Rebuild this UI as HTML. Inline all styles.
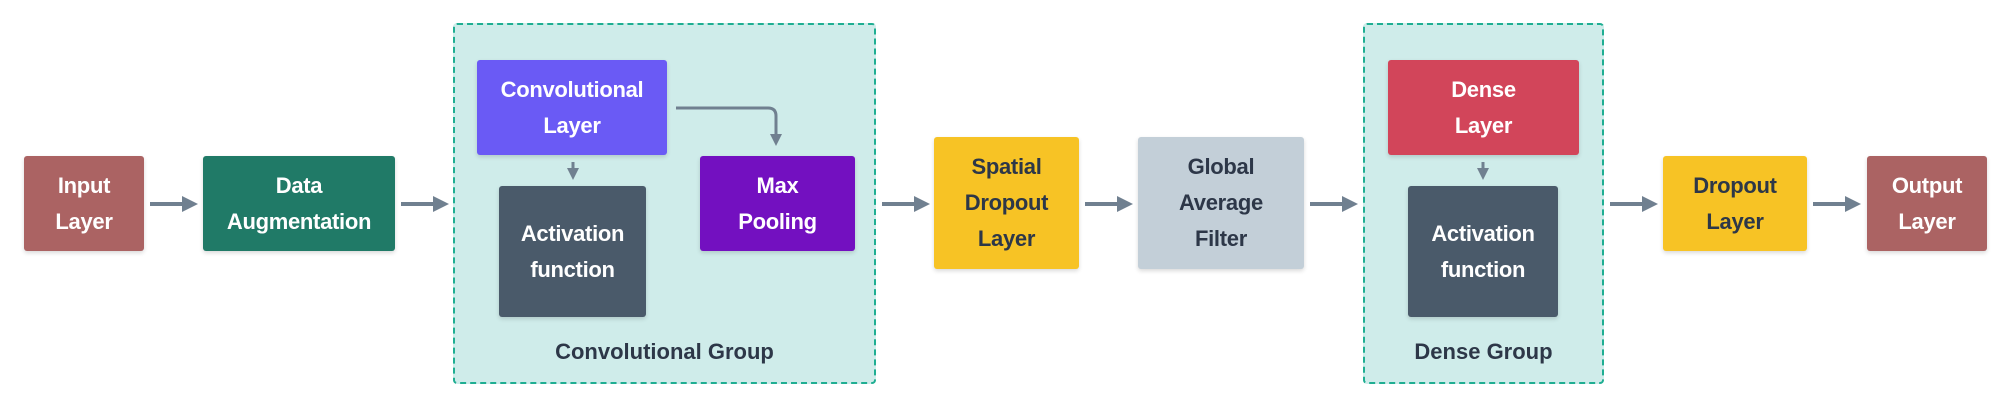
<!DOCTYPE html>
<html><head><meta charset="utf-8"><style>
body{margin:0;background:#fff;width:2011px;height:408px;overflow:hidden;font-family:"Liberation Sans",sans-serif}
.b{position:absolute;display:flex;align-items:center;justify-content:center;text-align:center;font-weight:bold;font-size:22px;line-height:36px;color:#fff;border-radius:3px;box-shadow:0 2px 4px rgba(0,0,0,.15);letter-spacing:-0.3px}
.g{position:absolute;background:#cfecea;border:2px dashed #1fae92;border-radius:4px;box-sizing:border-box}
.gl{position:absolute;font-weight:bold;font-size:22px;color:#2d3748;text-align:center}
.d{color:#2d3748}
</style></head><body>
<div class="g" style="left:453px;top:23px;width:423px;height:361px"></div>
<div class="g" style="left:1363px;top:23px;width:241px;height:361px"></div>
<div class="gl" style="left:453px;width:423px;top:339px">Convolutional Group</div>
<div class="gl" style="left:1363px;width:241px;top:339px">Dense Group</div>

<div class="b" style="left:24px;top:156px;width:120px;height:95px;background:#ab6363">Input<br>Layer</div>
<div class="b" style="left:203px;top:156px;width:192px;height:95px;background:#207a67">Data<br>Augmentation</div>
<div class="b" style="left:477px;top:60px;width:190px;height:95px;background:#6a5af5">Convolutional<br>Layer</div>
<div class="b" style="left:499px;top:186px;width:147px;height:131px;background:#4a5a6a">Activation<br>function</div>
<div class="b" style="left:700px;top:156px;width:155px;height:95px;background:#7310c0">Max<br>Pooling</div>
<div class="b d" style="left:934px;top:137px;width:145px;height:132px;background:#f7c325">Spatial<br>Dropout<br>Layer</div>
<div class="b d" style="left:1138px;top:137px;width:166px;height:132px;background:#c3cfd8">Global<br>Average<br>Filter</div>
<div class="b" style="left:1388px;top:60px;width:191px;height:95px;background:#d2455a">Dense<br>Layer</div>
<div class="b" style="left:1408px;top:186px;width:150px;height:131px;background:#4a5a6a">Activation<br>function</div>
<div class="b d" style="left:1663px;top:156px;width:144px;height:95px;background:#f7c325">Dropout<br>Layer</div>
<div class="b" style="left:1867px;top:156px;width:120px;height:95px;background:#ab6363">Output<br>Layer</div>

<svg width="2011" height="408" style="position:absolute;left:0;top:0" fill="none" stroke="#708090" stroke-width="4">
<defs><marker id="a" markerWidth="4" markerHeight="4" refX="2" refY="2" orient="auto" markerUnits="strokeWidth"><path d="M0,0 L4,2 L0,4 z" fill="#708090" stroke="none"/></marker></defs>
<g marker-end="url(#a)">
<path d="M150 204 H190"/>
<path d="M401 204 H441"/>
<path d="M882 204 H922"/>
<path d="M1085 204 H1125"/>
<path d="M1310 204 H1350"/>
<path d="M1610 204 H1650"/>
<path d="M1813 204 H1853"/>
<path d="M573 162 V174" stroke-width="3"/>
<path d="M1483 162 V174" stroke-width="3"/>
<path d="M676 108 H768 Q776 108 776 116 V140" stroke-width="3"/>
</g>
</svg>
</body></html>
